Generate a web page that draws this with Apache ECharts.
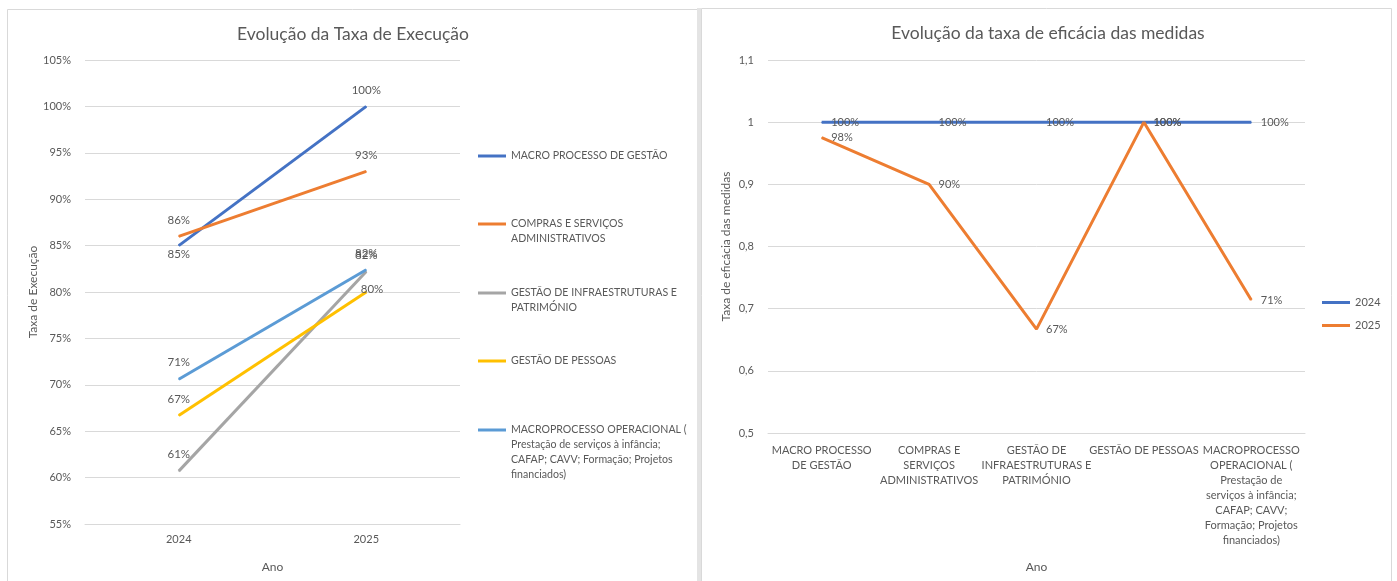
<!DOCTYPE html>
<html><head><meta charset="utf-8">
<script src="https://cdn.jsdelivr.net/npm/echarts@6/dist/echarts.min.js"></script>
<style>html,body{margin:0;padding:0;background:#fff}#c{width:1397px;height:581px}</style>
</head><body><div id="c"></div>
<script>
// ---------- data ----------
const years = ['2024', '2025'];
const procNames = [
  'MACRO PROCESSO DE GESTÃO',
  'COMPRAS E SERVIÇOS ADMINISTRATIVOS',
  'GESTÃO DE INFRAESTRUTURAS E PATRIMÓNIO',
  'GESTÃO DE PESSOAS',
  'MACROPROCESSO OPERACIONAL ( Prestação de serviços à infância; CAFAP; CAVV; Formação; Projetos financiados)'
];
const procLegendText = [
  'MACRO PROCESSO DE GESTÃO',
  'COMPRAS E SERVIÇOS\nADMINISTRATIVOS',
  'GESTÃO DE INFRAESTRUTURAS E\nPATRIMÓNIO',
  'GESTÃO DE PESSOAS',
  'MACROPROCESSO OPERACIONAL (\nPrestação de serviços à infância;\nCAFAP; CAVV; Formação; Projetos\nfinanciados)'
];
const macroGestao      = [85, 100];
const comprasServicos  = [86, 93];
const infraestruturas  = [60.7, 82.2];
const pessoas          = [66.7, 80];
const macroOperacional = [70.6, 82.4];

const effCategories = [
  'MACRO PROCESSO\nDE GESTÃO',
  'COMPRAS E\nSERVIÇOS\nADMINISTRATIVOS',
  'GESTÃO DE\nINFRAESTRUTURAS E\nPATRIMÓNIO',
  'GESTÃO DE PESSOAS',
  'MACROPROCESSO\nOPERACIONAL (\nPrestação de\nserviços à infância;\nCAFAP; CAVV;\nFormação; Projetos\nfinanciados)'
];
const effYears = ['2024', '2025'];
const eff2024 = [1, 1, 1, 1, 1];
const eff2025 = [0.975, 0.90, 0.667, 1, 0.714];

// ---------- styling ----------
const FONT = 'Lato';
const TXT = '#595959';
const GRID = '#d9d9d9';
const leftColors = ['#4472C4', '#ED7D31', '#A5A5A5', '#FFC000', '#5B9BD5'];
const leftValues = [macroGestao, comprasServicos, infraestruturas, pessoas, macroOperacional];
const leftLabelPos = [['bottom', 'top'], ['top', 'top'], ['top', 'top'], ['top', 'right'], ['top', 'top']];
const legendLineY = [156, 224, 293, 361, 430];

function lblCfg(pos) {
  if (pos === 'bottom') return { position: 'bottom', distance: 2 };
  if (pos === 'right') return { position: 'right', distance: 0, offset: [-6, -3] };
  return { position: 'top', distance: 10 };
}

const series = [];
leftValues.forEach((vals, i) => {
  series.push({
    name: procNames[i], type: 'line', xAxisIndex: 0, yAxisIndex: 0,
    symbol: 'circle', symbolSize: 1, showSymbol: true, color: leftColors[i],
    lineStyle: { width: 3, color: leftColors[i] },
    label: { show: true, color: TXT, fontFamily: FONT, fontSize: 11.5, formatter: p => Math.round(p.value) + '%' },
    data: vals.map((v, j) => ({ value: v, label: lblCfg(leftLabelPos[i][j]) })),
    animation: false
  });
});
const rightColors = ['#4472C4', '#ED7D31'];
[eff2024, eff2025].forEach((vals, i) => {
  series.push({
    name: effYears[i], type: 'line', xAxisIndex: 1, yAxisIndex: 1,
    symbol: 'circle', symbolSize: 1, showSymbol: true, color: rightColors[i],
    lineStyle: { width: 3, color: rightColors[i] },
    label: { show: true, position: 'right', distance: 9, color: TXT, fontFamily: FONT, fontSize: 11,
      formatter: p => Math.round(p.value * 100) + '%' },
    data: vals, animation: false
  });
});

const legends = procNames.map((n, i) => {
  const lines = procLegendText[i].split('\n').length;
  const pad = '\n'.repeat(lines - 1);
  return {
    data: [n], orient: 'vertical', left: 478, top: legendLineY[i] - (2 * lines - 1) * 7.5,
    padding: 0, icon: 'rect', itemWidth: 28, itemHeight: 3,
    formatter: () => pad + procLegendText[i],
    textStyle: { color: TXT, fontFamily: FONT, fontSize: 10.6, lineHeight: 15 }
  };
});
legends.push({
  data: effYears, orient: 'vertical', left: 1322, top: 295, padding: 0, icon: 'rect',
  itemWidth: 28, itemHeight: 3, itemGap: 8,
  textStyle: { color: TXT, fontFamily: FONT, fontSize: 11, lineHeight: 15 }
});

const chart = echarts.init(document.getElementById('c'));
chart.setOption({
  animation: false,
  backgroundColor: '#fff',
  textStyle: { fontFamily: FONT },
  graphic: [
    { type: 'rect', shape: { x: 7.5, y: 9.5, width: 690, height: 620 }, style: { fill: 'none', stroke: '#d9d9d9', lineWidth: 1 }, silent: true },
    { type: 'rect', shape: { x: 697, y: 8, width: 4, height: 620 }, style: { fill: '#e4e4e4' }, silent: true },
    { type: 'rect', shape: { x: 701.5, y: 8.5, width: 690, height: 620 }, style: { fill: 'none', stroke: '#d9d9d9', lineWidth: 1 }, silent: true }
  ],
  title: [
    { text: 'Evolução da Taxa de Execução', left: 348, top: 20, textAlign: 'center',
      textStyle: { color: TXT, fontFamily: FONT, fontSize: 17.5, fontWeight: 'normal' } },
    { text: 'Evolução da taxa de eficácia das medidas', left: 1043, top: 19, textAlign: 'center',
      textStyle: { color: TXT, fontFamily: FONT, fontSize: 17.5, fontWeight: 'normal' } }
  ],
  legend: legends,
  grid: [
    { left: 85, right: 1397 - 460, top: 60, bottom: 581 - 524 },
    { left: 768, right: 1397 - 1305, top: 60, bottom: 581 - 433 }
  ],
  xAxis: [
    { type: 'category', gridIndex: 0, data: years, boundaryGap: true,
      name: 'Ano', nameLocation: 'middle', nameGap: 37,
      nameTextStyle: { color: TXT, fontFamily: FONT, fontSize: 12 },
      axisLine: { show: true, lineStyle: { color: GRID } }, axisTick: { show: false },
      axisLabel: { color: TXT, fontFamily: FONT, fontSize: 11, margin: 10 } },
    { type: 'category', gridIndex: 1, data: effCategories, boundaryGap: true,
      name: 'Ano', nameLocation: 'middle', nameGap: 128,
      nameTextStyle: { color: TXT, fontFamily: FONT, fontSize: 12 },
      axisLine: { show: true, lineStyle: { color: GRID } }, axisTick: { show: false },
      axisLabel: { color: TXT, fontFamily: FONT, fontSize: 11, margin: 10, interval: 0, lineHeight: 15 } }
  ],
  yAxis: [
    { type: 'value', gridIndex: 0, min: 55, max: 105, interval: 5,
      name: 'Taxa de Execução', nameLocation: 'middle', nameGap: 45, nameRotate: 90,
      nameTextStyle: { color: TXT, fontFamily: FONT, fontSize: 12 },
      axisLine: { show: false }, axisTick: { show: false },
      splitLine: { lineStyle: { color: GRID, width: 1 } },
      axisLabel: { color: TXT, fontFamily: FONT, fontSize: 11, margin: 14, formatter: v => Math.round(v) + '%' } },
    { type: 'value', gridIndex: 1, min: 0.5, max: 1.1, interval: 0.1,
      name: 'Taxa de eficácia das medidas', nameLocation: 'middle', nameGap: 36, nameRotate: 90,
      nameTextStyle: { color: TXT, fontFamily: FONT, fontSize: 12 },
      axisLine: { show: false }, axisTick: { show: false },
      splitLine: { lineStyle: { color: GRID, width: 1 } },
      axisLabel: { color: TXT, fontFamily: FONT, fontSize: 11, margin: 14,
        formatter: v => String(Math.round(v * 10) / 10).replace('.', ',') } }
  ],
  series: series
});
</script></body></html>
